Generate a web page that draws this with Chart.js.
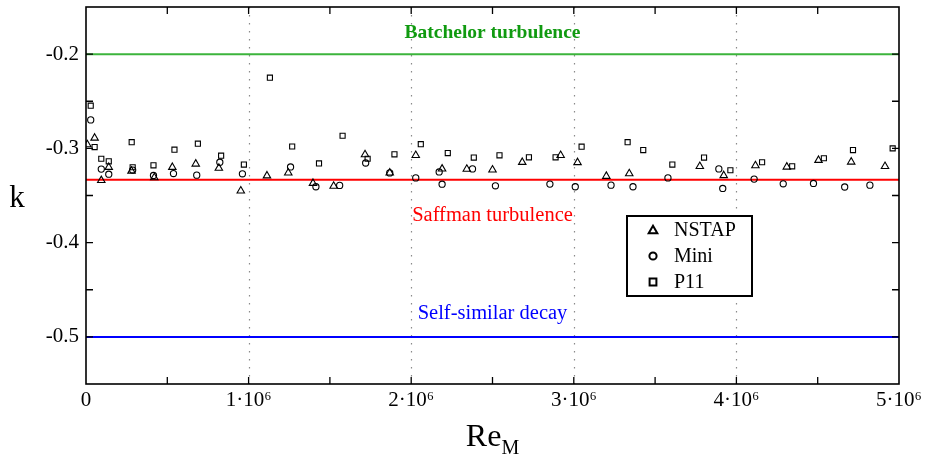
<!DOCTYPE html>
<html>
<head>
<meta charset="utf-8">
<script src="https://cdn.jsdelivr.net/npm/chart.js@4/dist/chart.umd.min.js"></script>
<style>
  html, body { margin: 0; padding: 0; background: #fff; }
  canvas { display: block; }
</style>
</head>
<body>
<canvas id="c" width="925" height="458"></canvas>
<script>
// Decay exponent k versus Re_M for three probe types
const nstapRe = [0.008e6, 0.053e6, 0.094e6, 0.140e6, 0.280e6, 0.420e6, 0.531e6, 0.675e6, 0.817e6, 0.952e6,
  1.113e6, 1.244e6, 1.396e6, 1.523e6, 1.716e6, 1.868e6, 2.028e6, 2.190e6, 2.342e6, 2.500e6,
  2.683e6, 2.919e6, 3.023e6, 3.200e6, 3.341e6, 3.775e6, 3.922e6, 4.117e6, 4.310e6, 4.505e6,
  4.706e6, 4.914e6];
const nstapK = [-0.296, -0.289, -0.334, -0.320, -0.324, -0.331, -0.320, -0.3165, -0.321, -0.345,
  -0.329, -0.326, -0.337, -0.340, -0.3066, -0.326, -0.3074, -0.3218, -0.322, -0.3228,
  -0.3147, -0.3074, -0.315, -0.3295, -0.3267, -0.319, -0.3288, -0.3183, -0.3197, -0.3126,
  -0.3144, -0.319];

const miniRe = [0.029e6, 0.094e6, 0.140e6, 0.287e6, 0.415e6, 0.538e6, 0.681e6, 0.823e6, 0.962e6, 1.258e6,
  1.414e6, 1.560e6, 1.720e6, 1.868e6, 2.028e6, 2.172e6, 2.190e6, 2.377e6, 2.518e6, 2.853e6,
  3.009e6, 3.229e6, 3.364e6, 3.579e6, 3.892e6, 3.916e6, 4.109e6, 4.288e6, 4.474e6, 4.666e6,
  4.821e6];
const miniK = [-0.2698, -0.322, -0.3274, -0.323, -0.3288, -0.3267, -0.3284, -0.3147, -0.327, -0.3197,
  -0.3407, -0.3393, -0.3155, -0.326, -0.3313, -0.325, -0.338, -0.3218, -0.3397, -0.3379,
  -0.3407, -0.339, -0.3407, -0.3313, -0.3218, -0.3425, -0.3326, -0.3376, -0.3372, -0.341,
  -0.339];

const p11Re = [0.029e6, 0.053e6, 0.094e6, 0.140e6, 0.281e6, 0.287e6, 0.415e6, 0.544e6, 0.688e6, 0.831e6,
  0.971e6, 1.131e6, 1.268e6, 1.433e6, 1.578e6, 1.732e6, 1.897e6, 2.059e6, 2.225e6, 2.385e6,
  2.543e6, 2.724e6, 2.888e6, 3.048e6, 3.331e6, 3.427e6, 3.606e6, 3.801e6, 3.963e6, 4.158e6,
  4.343e6, 4.538e6, 4.717e6, 4.961e6];
const p11K = [-0.2547, -0.2986, -0.311, -0.3137, -0.2934, -0.320, -0.318, -0.3014, -0.295, -0.3077,
  -0.3172, -0.225, -0.298, -0.316, -0.2866, -0.311, -0.3063, -0.2955, -0.305, -0.3098,
  -0.3074, -0.3095, -0.3095, -0.2982, -0.2934, -0.3018, -0.3172, -0.3098, -0.3232, -0.3147,
  -0.319, -0.3105, -0.3018, -0.300];

// Theoretical decay exponents
const refNames = ['Batchelor turbulence', 'Saffman turbulence', 'Self-similar decay'];
const refK = [-0.2, -1 / 3, -0.5];

const seriesNames = ['NSTAP', 'Mini', 'P11'];
const xTickLabels = ['0', '1·10⁶', '2·10⁶', '3·10⁶', '4·10⁶', '5·10⁶'];
const yTickLabels = ['-0.5', '-0.4', '-0.3', '-0.2'];
const yTickValues = [-0.5, -0.4, -0.3, -0.2];

const SERIF = '"Liberation Serif", "Times New Roman", serif';
const refLineColors = ['#3cb43c', '#ff0000', '#0000ff'];
const refTextColors = ['#109a10', '#ff0000', '#0000ff'];
const refTextOffsets = [-21, 36, -23];
const refTextFonts = ['bold 19.5px ' + SERIF, '20.5px ' + SERIF, '20.5px ' + SERIF];

const toPts = (xs, ys) => xs.map((x, i) => ({ x: x, y: ys[i] }));

function markerPath(ctx, style, x, y, r) {
  ctx.beginPath();
  if (style === 'triangle') {
    ctx.moveTo(x, y - r);
    ctx.lineTo(x + r * 0.866, y + r * 0.5);
    ctx.lineTo(x - r * 0.866, y + r * 0.5);
    ctx.closePath();
  } else if (style === 'circle') {
    ctx.arc(x, y, r, 0, Math.PI * 2);
  } else {
    ctx.rect(x - r, y - r, 2 * r, 2 * r);
  }
}

const decor = {
  id: 'decor',
  beforeDatasetsDraw(chart) {
    const { ctx, chartArea: a, scales: { x } } = chart;
    ctx.save();
    ctx.strokeStyle = '#8a8a8a';
    ctx.lineWidth = 1.2;
    ctx.setLineDash([1.5, 6.5]);
    for (let v = 1e6; v < 5e6; v += 1e6) {
      const px = Math.round(x.getPixelForValue(v)) + 0.5;
      ctx.beginPath();
      ctx.moveTo(px, a.top);
      ctx.lineTo(px, a.bottom);
      ctx.stroke();
    }
    ctx.restore();
  },
  afterDatasetsDraw(chart) {
    const { ctx, chartArea: a, scales: { x, y } } = chart;
    ctx.save();
    // inward tick marks on all four sides
    ctx.strokeStyle = '#000';
    ctx.lineWidth = 1.3;
    const tl = 7;
    for (let i = 1; i < 10; i++) {
      const px = x.getPixelForValue(i * 5e5);
      ctx.beginPath();
      ctx.moveTo(px, a.bottom); ctx.lineTo(px, a.bottom - tl);
      ctx.moveTo(px, a.top); ctx.lineTo(px, a.top + tl);
      ctx.stroke();
    }
    for (let i = 1; i < 8; i++) {
      const py = y.getPixelForValue(-0.55 + i * 0.05);
      ctx.beginPath();
      ctx.moveTo(a.left, py); ctx.lineTo(a.left + tl, py);
      ctx.moveTo(a.right, py); ctx.lineTo(a.right - tl, py);
      ctx.stroke();
    }
    // frame
    ctx.lineWidth = 1.6;
    ctx.strokeRect(a.left, a.top, a.right - a.left, a.bottom - a.top);

    // labels of the reference lines
    ctx.textAlign = 'center';
    ctx.textBaseline = 'middle';
    const cx = x.getPixelForValue(2.5e6);
    refNames.forEach((name, i) => {
      ctx.font = refTextFonts[i];
      ctx.fillStyle = refTextColors[i];
      ctx.fillText(name, cx, y.getPixelForValue(refK[i]) + refTextOffsets[i]);
    });

    // legend box
    const bx = 627, by = 216, bw = 125, bh = 80;
    ctx.fillStyle = '#fff';
    ctx.fillRect(bx, by, bw, bh);
    ctx.strokeStyle = '#000';
    ctx.lineWidth = 2;
    ctx.strokeRect(bx, by, bw, bh);
    const styles = ['triangle', 'circle', 'rect'];
    const radii = [5, 3.6, 3.4];
    ctx.font = '20px ' + SERIF;
    ctx.textAlign = 'left';
    ctx.textBaseline = 'middle';
    seriesNames.forEach((name, i) => {
      const ry = by + 14 + i * 26;
      ctx.lineWidth = 2;
      markerPath(ctx, styles[i], bx + 26, ry + (i === 0 ? 0.8 : 0), radii[i]);
      ctx.stroke();
      ctx.fillStyle = '#000';
      ctx.fillText(name, bx + 47, ry + 1);
    });

    // axis titles
    ctx.fillStyle = '#000';
    ctx.textAlign = 'center';
    ctx.textBaseline = 'alphabetic';
    ctx.font = '31px ' + SERIF;
    ctx.fillText('k', 17, 207);
    ctx.textAlign = 'left';
    ctx.font = '32px ' + SERIF;
    const wRe = ctx.measureText('Re').width;
    ctx.font = '20px ' + SERIF;
    const wM = ctx.measureText('M').width;
    const sx = (a.left + a.right) / 2 - (wRe + wM) / 2;
    ctx.font = '32px ' + SERIF;
    ctx.fillText('Re', sx, 446);
    ctx.font = '20px ' + SERIF;
    ctx.fillText('M', sx + wRe, 454);
    ctx.restore();
  }
};

const markerCommon = {
  type: 'scatter',
  backgroundColor: 'rgba(0,0,0,0)',
  borderColor: '#000',
  borderWidth: 1.1,
  showLine: false
};

const datasets = [
  Object.assign({}, markerCommon, { label: seriesNames[0], data: toPts(nstapRe, nstapK), pointStyle: 'triangle', pointRadius: 4.3 }),
  Object.assign({}, markerCommon, { label: seriesNames[1], data: toPts(miniRe, miniK), pointStyle: 'circle', pointRadius: 3.1 }),
  Object.assign({}, markerCommon, { label: seriesNames[2], data: toPts(p11Re, p11K), pointStyle: 'rect', pointRadius: 3.6 })
];
refK.forEach((k, i) => {
  datasets.push({
    type: 'line',
    label: refNames[i],
    data: [{ x: 0, y: k }, { x: 5e6, y: k }],
    borderColor: refLineColors[i],
    borderWidth: 2,
    pointRadius: 0,
    fill: false
  });
});

new Chart(document.getElementById('c'), {
  type: 'scatter',
  data: { datasets: datasets },
  options: {
    responsive: false,
    animation: false,
    devicePixelRatio: 1,
    layout: { padding: { top: 7, right: 26, left: 0, bottom: 0 } },
    plugins: { legend: { display: false }, tooltip: { enabled: false } },
    scales: {
      x: {
        type: 'linear',
        min: 0,
        max: 5e6,
        grid: { display: false, drawTicks: false },
        border: { display: false },
        ticks: {
          stepSize: 5e5,
          autoSkip: false,
          maxRotation: 0,
          minRotation: 0,
          padding: 4,
          color: '#000',
          font: { family: SERIF, size: 21 },
          callback: (v) => {
            const i = Math.round(v / 5e5);
            return i % 2 === 0 ? xTickLabels[i / 2] : '';
          }
        },
        afterFit: (s) => { s.height = 74; s.paddingLeft = 0; s.paddingRight = 0; }
      },
      y: {
        type: 'linear',
        min: -0.55,
        max: -0.15,
        grid: { display: false, drawTicks: false },
        border: { display: false },
        ticks: {
          stepSize: 0.05,
          autoSkip: false,
          padding: 7,
          color: '#000',
          font: { family: SERIF, size: 21 },
          callback: (v) => {
            const idx = yTickValues.findIndex(t => Math.abs(t - v) < 1e-6);
            return idx >= 0 ? yTickLabels[idx] : '';
          }
        },
        afterFit: (s) => { s.width = 86; s.paddingTop = 0; s.paddingBottom = 0; }
      }
    }
  },
  plugins: [decor]
});
</script>
</body>
</html>
